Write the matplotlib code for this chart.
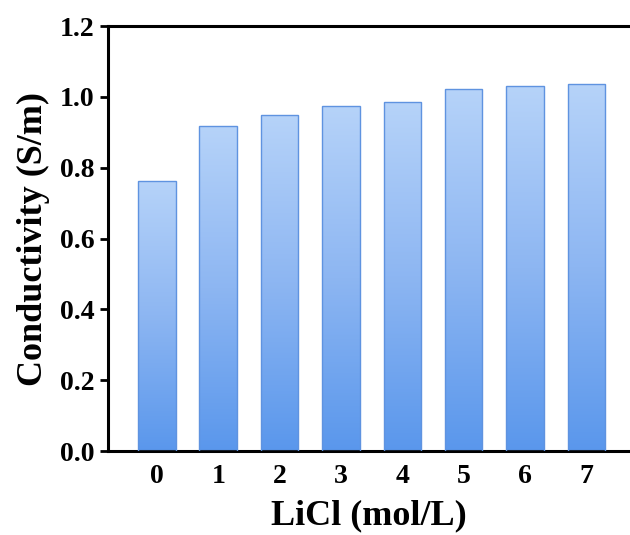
import numpy as np
import matplotlib.pyplot as plt
from matplotlib.colors import LinearSegmentedColormap

plt.rcParams['font.family'] = ['Liberation Serif', 'DejaVu Serif']
plt.rcParams['font.weight'] = 'bold'

# data
licl = [0, 1, 2, 3, 4, 5, 6, 7]
conductivity = [0.763, 0.918, 0.950, 0.975, 0.985, 1.023, 1.031, 1.037]
yticks = [0.0, 0.2, 0.4, 0.6, 0.8, 1.0, 1.2]

bar_cmap = LinearSegmentedColormap.from_list('bluegrad', ['#5A97EC', '#8DB6F2', '#B6D3F9'])

fig = plt.figure(figsize=(6.3, 5.35), dpi=100)
ax = fig.add_axes([0.171, 0.157, 0.829, 0.7944])

bars = ax.bar(licl, conductivity, width=0.61, facecolor='none',
              edgecolor='#5F93E0', linewidth=1.0, zorder=3)

# vertical gradient inside every bar
grad = np.linspace(0, 1, 256).reshape(-1, 1)
for b in bars:
    x0, y0 = b.get_x(), b.get_y()
    w, h = b.get_width(), b.get_height()
    im = ax.imshow(grad, cmap=bar_cmap, origin='lower', aspect='auto',
                   extent=[x0, x0 + w, y0, y0 + h], zorder=2)
    im.set_clip_path(b)

ax.set_xlim(-0.8, 7.71)
ax.set_ylim(0, 1.2)
ax.set_xticks(licl)
ax.set_yticks(yticks)
ax.set_yticklabels(['%.1f' % v for v in yticks])

for s in ['left', 'bottom', 'top']:
    ax.spines[s].set_linewidth(2.2)
ax.spines['right'].set_visible(False)

ax.tick_params(axis='y', direction='out', length=5.7, width=2.0, pad=4.0, labelsize=20)
ax.tick_params(axis='x', length=0, pad=9, labelsize=20)

ax.set_xlabel('LiCl (mol/L)', fontsize=26, fontweight='bold', labelpad=8)
ax.set_ylabel('Conductivity (S/m)', fontsize=26, fontweight='bold', labelpad=7)

fig.savefig('out.png', dpi=100)
